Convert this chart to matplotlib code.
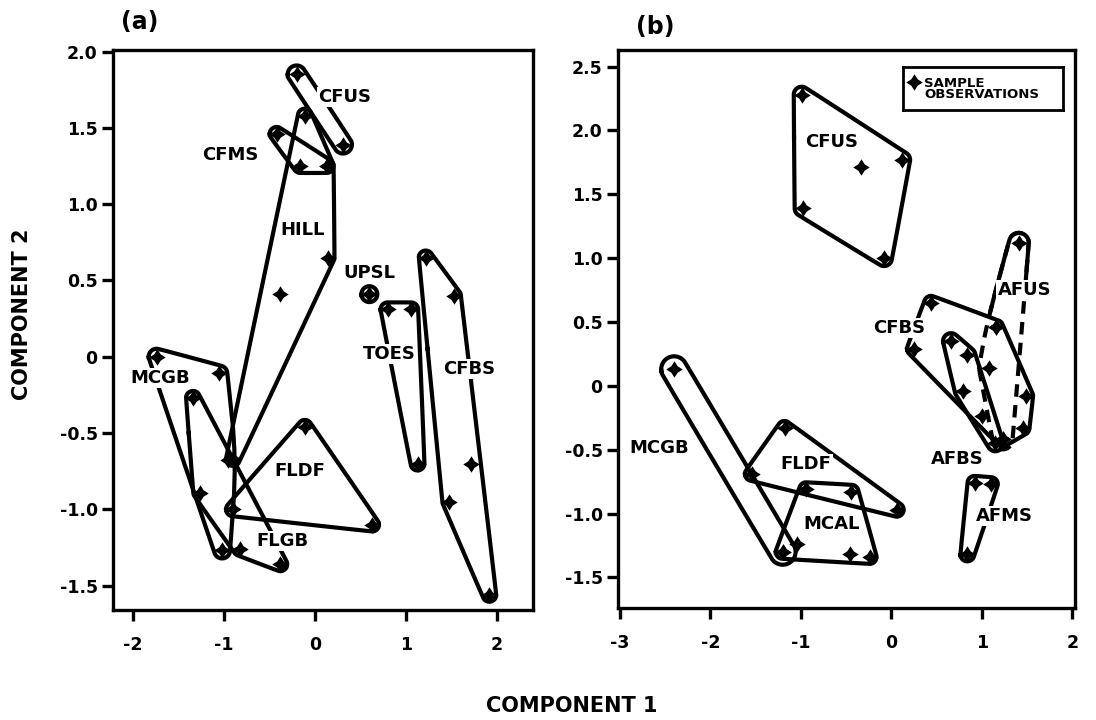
import numpy as np
import matplotlib
matplotlib.use("Agg")
import matplotlib.pyplot as plt
from matplotlib.path import Path

# ---------------- data ----------------
# Panel (a)
a_groups = ["CFUS", "CFMS", "HILL", "UPSL", "TOES", "CFBS", "MCGB", "FLGB", "FLDF"]
a_x = {
    "CFUS": [-0.20, 0.31],
    "CFMS": [-0.42, -0.16, 0.13],
    "HILL": [-0.11, 0.13, 0.14, -0.38, -0.90],
    "UPSL": [0.60],
    "TOES": [0.80, 1.06, 1.13],
    "CFBS": [1.22, 1.53, 1.72, 1.48, 1.92],
    "MCGB": [-1.74, -1.05, -0.95, -1.02],
    "FLGB": [-1.34, -1.26, -0.82, -0.38],
    "FLDF": [-0.11, -0.90, 0.63],
}
a_y = {
    "CFUS": [1.85, 1.39],
    "CFMS": [1.46, 1.25, 1.25],
    "HILL": [1.58, 1.25, 0.65, 0.41, -0.67],
    "UPSL": [0.41],
    "TOES": [0.31, 0.31, -0.70],
    "CFBS": [0.65, 0.40, -0.70, -0.95, -1.56],
    "MCGB": [0.00, -0.11, -0.68, -1.27],
    "FLGB": [-0.27, -0.89, -1.26, -1.36],
    "FLDF": [-0.46, -1.00, -1.10],
}
a_label_xy = {
    "CFUS": (0.33, 1.70), "CFMS": (-0.93, 1.32), "HILL": (-0.13, 0.83),
    "UPSL": (0.60, 0.55), "TOES": (0.82, 0.02), "CFBS": (1.70, -0.08),
    "MCGB": (-1.70, -0.14), "FLDF": (-0.16, -0.75), "FLGB": (-0.36, -1.21),
}

# Panel (b)
b_groups = ["CFUS", "MCGB", "FLDF", "MCAL", "CFBS", "AFBS", "AFUS", "AFMS"]
b_x = {
    "CFUS": [-0.99, -0.33, 0.12, -0.98, -0.08],
    "MCGB": [-2.40, -1.20],
    "FLDF": [-1.18, -1.54, 0.06],
    "MCAL": [-0.94, -0.44, -0.46, -0.24, -1.04, -1.20],
    "CFBS": [0.44, 0.25, 1.16, 1.49, 1.45, 1.23],
    "AFBS": [0.66, 0.84, 0.79, 1.00, 1.15],
    "AFUS": [1.41, 1.16, 1.08, 1.23],
    "AFMS": [0.92, 1.10, 0.84],
}
b_y = {
    "CFUS": [2.28, 1.71, 1.77, 1.39, 1.00],
    "MCGB": [0.13, -1.30],
    "FLDF": [-0.33, -0.69, -0.97],
    "MCAL": [-0.81, -0.83, -1.32, -1.34, -1.24, -1.30],
    "CFBS": [0.65, 0.29, 0.46, -0.08, -0.33, -0.42],
    "AFBS": [0.35, 0.24, -0.04, -0.24, -0.45],
    "AFUS": [1.12, 0.46, 0.14, -0.42],
    "AFMS": [-0.76, -0.77, -1.32],
}
b_label_xy = {
    "CFUS": (-0.66, 1.91), "AFUS": (1.47, 0.75), "CFBS": (0.09, 0.45),
    "AFBS": (0.73, -0.57), "AFMS": (1.25, -1.02), "MCGB": (-2.56, -0.49),
    "FLDF": (-0.94, -0.61), "MCAL": (-0.66, -1.08),
}

a_xticks = [-2, -1, 0, 1, 2]
a_yticks = [2.0, 1.5, 1.0, 0.5, 0, -0.5, -1.0, -1.5]
b_xticks = [-3, -2, -1, 0, 1, 2]
b_yticks = [2.5, 2.0, 1.5, 1.0, 0.5, 0, -0.5, -1.0, -1.5]
legend_label = "SAMPLE\nOBSERVATIONS"

# ---------------- styling ----------------
LW = 3.0
plt.rcParams["font.family"] = "DejaVu Sans"
star = Path.unit_regular_star(4, 0.55)

a_margin = {"UPSL": 8, "CFUS": 9, "MCGB": 8}
b_margin = {"MCGB": 13, "CFUS": 8, "AFBS": 8, "AFUS": 10}
b_dashed = {"AFUS"}


def convex_hull(p):
    p = sorted(map(tuple, p))
    def cross(o, a, b):
        return (a[0]-o[0])*(b[1]-o[1]) - (a[1]-o[1])*(b[0]-o[0])
    lower, upper = [], []
    for q in p:
        while len(lower) >= 2 and cross(lower[-2], lower[-1], q) <= 0:
            lower.pop()
        lower.append(q)
    for q in reversed(p):
        while len(upper) >= 2 and cross(upper[-2], upper[-1], q) <= 0:
            upper.pop()
        upper.append(q)
    return np.array(lower[:-1] + upper[:-1])


def chaikin(h, n=3):
    for _ in range(n):
        nxt = np.roll(h, -1, axis=0)
        q = 0.75*h + 0.25*nxt
        r = 0.25*h + 0.75*nxt
        h = np.empty((2*len(h), 2))
        h[0::2] = q
        h[1::2] = r
    return h


def outline(ax, xs, ys, r):
    pts = ax.transData.transform(np.column_stack([xs, ys]))
    ang = np.linspace(0, 2*np.pi, 24, endpoint=False)
    circ = np.column_stack([np.cos(ang), np.sin(ang)]) * r
    cloud = (pts[:, None, :] + circ[None, :, :]).reshape(-1, 2)
    h = chaikin(convex_hull(cloud), 2)
    h = np.vstack([h, h[:1]])
    return ax.transData.inverted().transform(h)


def setup(ax, xlim, ylim, xt, yt):
    ax.set_xlim(*xlim)
    ax.set_ylim(*ylim)
    ax.set_xticks(xt)
    ax.set_yticks(yt)
    ax.set_xticklabels([f"{v:g}" for v in xt])
    ax.set_yticklabels(["0" if v == 0 else f"{v:.1f}" for v in yt])
    for s in ax.spines.values():
        s.set_linewidth(2.4)
    ax.tick_params(axis="both", direction="out", length=8, width=2.4,
                   labelsize=12.5)
    ax.tick_params(axis="x", pad=11)
    ax.tick_params(axis="y", pad=3)
    for lab in ax.get_xticklabels() + ax.get_yticklabels():
        lab.set_fontweight("bold")


fig = plt.figure(figsize=(10.96, 7.2), dpi=100)
axa = fig.add_axes([113/1096, 1-610/720, 420/1096, 560/720])
axb = fig.add_axes([618/1096, 1-608/720, 457/1096, 558/720])
setup(axa, (-2.22, 2.40), (-1.66, 2.01), a_xticks, a_yticks)
setup(axb, (-3.02, 2.03), (-1.74, 2.63), b_xticks, b_yticks)


def draw(ax, groups, gx, gy, labels, margins, dashed=()):
    for g in groups:
        r = margins.get(g, 7)
        o = outline(ax, gx[g], gy[g], r)
        if g in dashed:
            ax.plot(o[:, 0], o[:, 1], color="black", lw=LW, ls=(0, (3, 2)),
                    zorder=2)
            top = np.where(o[:, 1] > 0.55, o[:, 1], np.nan)
            ax.plot(o[:, 0], top, color="black", lw=LW, zorder=2,
                    solid_capstyle="round")
        else:
            ax.plot(o[:, 0], o[:, 1], color="black", lw=LW, zorder=2,
                    solid_joinstyle="round")
        ax.scatter(gx[g], gy[g], marker=star, s=140, color="black",
                   zorder=4, linewidths=0)
        lx, ly = labels[g]
        ax.text(lx, ly, g, ha="center", va="center", fontsize=13,
                fontweight="bold", zorder=3,
                bbox=dict(facecolor="white", edgecolor="none", pad=0.8))


draw(axa, a_groups, a_x, a_y, a_label_xy, a_margin)
draw(axb, b_groups, b_x, b_y, b_label_xy, b_margin, b_dashed)

# legend box (top right of panel b)
legax = fig.add_axes([903/1096, 1-110/720, 160/1096, 43/720], zorder=5)
legax.set_xlim(0, 160)
legax.set_ylim(43, 0)
legax.set_xticks([])
legax.set_yticks([])
legax.set_facecolor("white")
for s in legax.spines.values():
    s.set_linewidth(2.0)
legax.scatter([11], [15], marker=star, s=140, color="black", linewidths=0)
legax.text(21, 22, legend_label, fontsize=9.5, fontweight="bold",
           ha="left", va="center", linespacing=0.85)

fig.text(140/1096, 1-22/720, "(a)", fontsize=17, fontweight="bold",
         ha="center", va="center")
fig.text(655/1096, 1-27/720, "(b)", fontsize=17, fontweight="bold",
         ha="center", va="center")
fig.text(572/1096, 1-706/720, "COMPONENT 1", fontsize=15, fontweight="bold",
         ha="center", va="center")
fig.text(22/1096, 1-314/720, "COMPONENT 2", fontsize=15, fontweight="bold",
         ha="center", va="center", rotation=90)

fig.savefig("out.png", dpi=100)
